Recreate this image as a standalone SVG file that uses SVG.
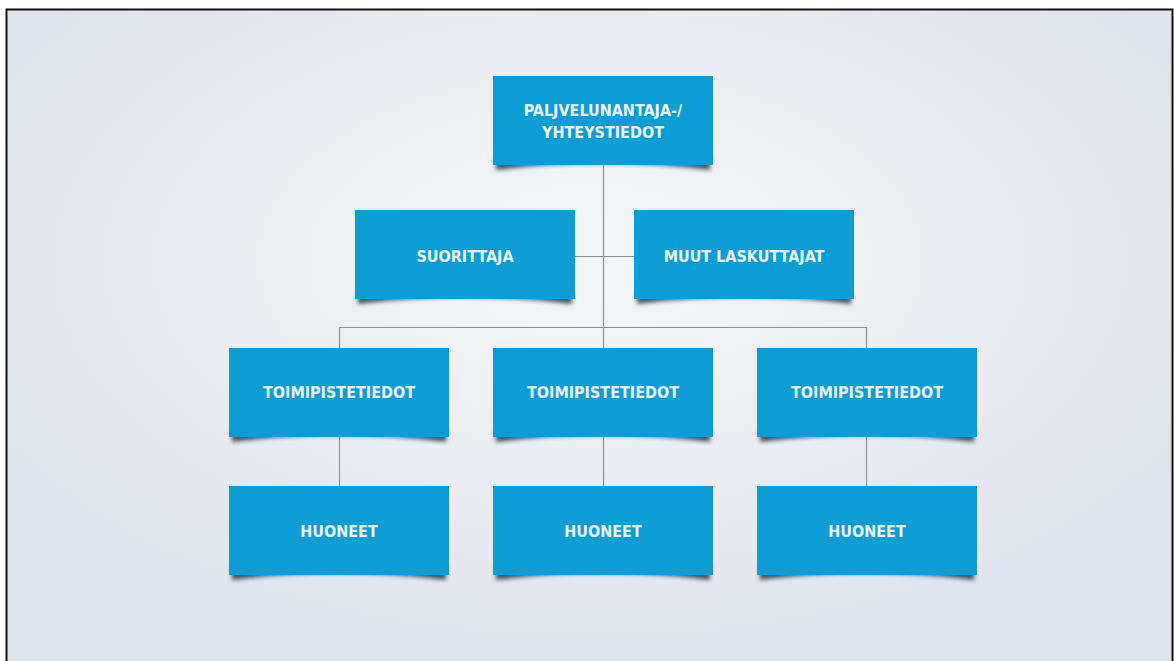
<svg xmlns="http://www.w3.org/2000/svg" width="1174" height="661" viewBox="0 0 1174 661">
  <defs>
    <radialGradient id="bg" cx="50%" cy="38%" r="60%">
      <stop offset="0" stop-color="#f4f5f7"/>
      <stop offset="0.55" stop-color="#eaedf1"/>
      <stop offset="1" stop-color="#dfe3eb"/>
    </radialGradient>
    <filter id="soft" x="-10%" y="-50%" width="120%" height="200%">
      <feGaussianBlur stdDeviation="2"/>
    </filter>
    <!-- lifted-corner shadow under each card -->
    <path id="shadow" d="M3,80 L217,80 L217,94 Q110,80 3,94 Z"/>
  </defs>
  <style>
    .card { fill: #0e9cd5; }
    .sh { fill: #1f2a33; opacity: 0.8; filter: url(#soft); }
    .lbl { fill: #eaf6fc; font-family: "DejaVu Sans Condensed", "DejaVu Sans", sans-serif; font-weight: bold; font-size: 16px; text-anchor: middle; }
    .wire { stroke: #8a9096; stroke-width: 1.2; fill: none; }
  </style>

  <rect x="0" y="0" width="1174" height="661" fill="#ffffff"/>
  <rect x="7" y="10" width="1166" height="660" fill="url(#bg)"/>
  <path d="M6.5,661 V9.5 H1172.5 V661" fill="none" stroke="#111" stroke-width="2"/>

  <g id="connectors">
    <path class="wire" d="M603.5,164 V327"/>
    <path class="wire" d="M575,256.5 H634"/>
    <path class="wire" d="M339.5,348 V327.5 H866.5 V348"/>
    <path class="wire" d="M603.5,327 V348"/>
    <path class="wire" d="M339.5,435 V486"/>
    <path class="wire" d="M603.5,435 V486"/>
    <path class="wire" d="M866.5,435 V486"/>
  </g>

  <g id="n-top" transform="translate(493,76)">
    <use href="#shadow" class="sh"/>
    <rect class="card" width="220" height="89"/>
    <text class="lbl" x="110" y="40">PALJVELUNANTAJA-/</text>
    <text class="lbl" x="110" y="62">YHTEYSTIEDOT</text>
  </g>

  <g id="n-suorittaja" transform="translate(355,210)">
    <use href="#shadow" class="sh"/>
    <rect class="card" width="220" height="89"/>
    <text class="lbl" x="110" y="52">SUORITTAJA</text>
  </g>

  <g id="n-muut" transform="translate(634,210)">
    <use href="#shadow" class="sh"/>
    <rect class="card" width="220" height="89"/>
    <text class="lbl" x="110" y="52">MUUT LASKUTTAJAT</text>
  </g>

  <g id="n-toimi-1" transform="translate(229,348)">
    <use href="#shadow" class="sh"/>
    <rect class="card" width="220" height="89"/>
    <text class="lbl" x="110" y="50">TOIMIPISTETIEDOT</text>
  </g>

  <g id="n-toimi-2" transform="translate(493,348)">
    <use href="#shadow" class="sh"/>
    <rect class="card" width="220" height="89"/>
    <text class="lbl" x="110" y="50">TOIMIPISTETIEDOT</text>
  </g>

  <g id="n-toimi-3" transform="translate(757,348)">
    <use href="#shadow" class="sh"/>
    <rect class="card" width="220" height="89"/>
    <text class="lbl" x="110" y="50">TOIMIPISTETIEDOT</text>
  </g>

  <g id="n-huoneet-1" transform="translate(229,486)">
    <use href="#shadow" class="sh"/>
    <rect class="card" width="220" height="89"/>
    <text class="lbl" x="110" y="51">HUONEET</text>
  </g>

  <g id="n-huoneet-2" transform="translate(493,486)">
    <use href="#shadow" class="sh"/>
    <rect class="card" width="220" height="89"/>
    <text class="lbl" x="110" y="51">HUONEET</text>
  </g>

  <g id="n-huoneet-3" transform="translate(757,486)">
    <use href="#shadow" class="sh"/>
    <rect class="card" width="220" height="89"/>
    <text class="lbl" x="110" y="51">HUONEET</text>
  </g>
</svg>
